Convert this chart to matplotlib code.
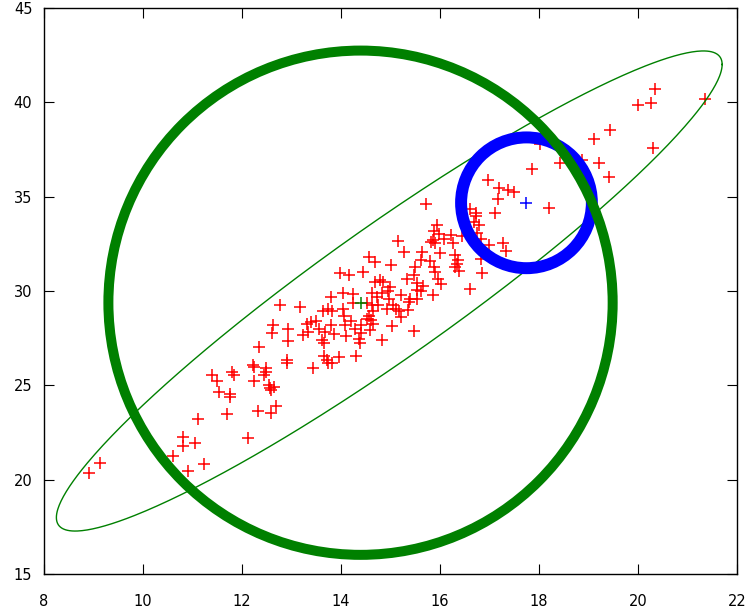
import numpy as np
import matplotlib
matplotlib.use("Agg")
import matplotlib.pyplot as plt
from matplotlib.patches import Ellipse

# ---- data ----
xs = [8.91, 9.15, 10.62, 10.81, 10.82, 11.05, 10.92, 11.25, 11.12, 11.70,
      12.12, 12.34, 12.59, 12.69, 11.41, 11.50, 11.81, 11.55, 11.76, 11.77,
      12.22, 12.25, 12.50, 12.49, 12.45, 12.24, 12.55, 12.66, 12.58, 12.92,
      12.92, 12.77, 13.18, 12.64, 12.61, 12.93, 13.31, 13.50, 13.34, 13.23,
      12.93, 12.35, 13.45, 11.85, 12.59, 15.15, 15.28, 14.58, 14.70, 15.01,
      14.45, 13.98, 14.16, 15.47, 14.79, 14.70, 14.85, 14.99, 14.96, 15.34,
      15.54, 15.55, 14.04, 14.24, 13.81, 14.64, 14.73, 14.84, 14.97, 15.22,
      15.40, 15.38, 15.54, 14.25, 14.53, 14.64, 14.76, 15.06, 14.04, 13.74,
      13.65, 13.82, 14.65, 14.93, 15.11, 15.18, 15.35, 14.06, 14.21, 14.57,
      14.62, 14.54, 15.22, 13.41, 13.81, 14.08, 14.40, 14.66, 15.04, 15.47,
      13.57, 13.69, 13.86, 14.10, 14.28, 14.41, 14.60, 14.37, 13.63, 13.66,
      14.83, 14.38, 14.30, 13.97, 13.66, 13.72, 13.75, 13.83, 15.72, 17.17,
      17.12, 16.73, 16.74, 16.69, 16.79, 16.60, 16.76, 16.84, 16.99, 17.28,
      17.33, 16.83, 15.94, 15.89, 15.99, 16.09, 15.87, 15.91, 15.83, 16.22,
      16.26, 16.45, 16.01, 15.64, 15.62, 15.81, 16.30, 16.37, 16.34, 16.30,
      16.39, 16.85, 15.89, 15.91, 15.50, 15.97, 16.02, 15.67, 15.62, 16.60,
      15.86, 19.12, 19.43, 20.30, 18.02, 17.87, 18.43, 18.88, 19.21, 19.41,
      16.97, 17.19, 17.37, 17.49, 18.20, 20.34, 20.27, 20.00, 21.36]
ys = [20.37, 20.90, 21.27, 22.28, 21.77, 21.94, 20.45, 20.85, 23.24, 23.49,
      22.24, 23.67, 23.52, 23.89, 25.57, 25.21, 25.69, 24.63, 24.53, 24.37,
      26.10, 25.98, 25.93, 25.71, 25.56, 25.24, 25.02, 24.93, 24.84, 26.35,
      26.21, 29.24, 29.14, 28.22, 27.80, 28.01, 28.26, 28.43, 27.83, 27.69,
      27.37, 27.05, 25.93, 25.56, 24.78, 32.64, 32.07, 31.79, 31.54, 31.36,
      31.00, 30.94, 30.84, 30.84, 30.59, 30.48, 30.48, 30.20, 30.02, 30.63,
      30.44, 30.06, 29.91, 29.84, 29.67, 29.88, 29.70, 29.88, 29.59, 29.81,
      29.59, 29.42, 29.59, 29.38, 29.38, 29.24, 29.24, 29.24, 29.06, 29.03,
      28.92, 28.92, 28.96, 29.06, 29.06, 28.92, 28.99, 28.65, 28.40, 28.65,
      28.47, 28.54, 28.61, 28.36, 28.19, 28.19, 28.19, 28.26, 28.15, 27.89,
      27.98, 27.83, 27.73, 27.62, 28.01, 27.80, 27.94, 27.48, 27.41, 27.23,
      27.43, 27.27, 26.54, 26.49, 26.54, 26.35, 26.17, 26.21, 34.61, 34.86,
      34.12, 34.15, 33.97, 33.65, 33.51, 34.36, 33.08, 32.77, 32.46, 32.53,
      32.10, 31.68, 33.51, 33.16, 33.02, 32.77, 32.71, 32.53, 32.60, 32.95,
      32.56, 32.91, 32.00, 32.07, 31.64, 31.61, 31.89, 31.64, 31.43, 31.25,
      31.04, 30.94, 31.25, 31.00, 31.25, 30.66, 30.38, 30.27, 29.99, 30.13,
      29.77, 38.03, 38.53, 37.55, 37.77, 36.45, 36.78, 36.93, 36.77, 36.02,
      35.88, 35.45, 35.35, 35.22, 34.38, 40.68, 39.97, 39.83, 40.18]

# thin ellipse (centre, half extents along x and y, phase between them)
ell_center = (14.98, 30.00)
ell_half_x = 6.72
ell_half_y = 12.71
ell_phase = np.arcsin(0.331)

# circles drawn round in screen space; radius in x-axis units
big_center = (14.40, 29.38)
big_radius = 5.09
small_center = (17.75, 34.67)
small_radius = 1.32

xticks = [8, 10, 12, 14, 16, 18, 20, 22]
yticks = [15, 20, 25, 30, 35, 40, 45]

# ---- figure ----
W, H = 748, 611
fig = plt.figure(figsize=(W / 100, H / 100), dpi=100)
left_px, right_px, top_px, bottom_px = 43.5, 737.0, 7.7, 574.3
ax = fig.add_axes([left_px / W, (H - bottom_px) / H,
                   (right_px - left_px) / W, (bottom_px - top_px) / H])
ax.set_xlim(8, 22)
ax.set_ylim(15, 45)

green = '#008000'
red = '#ff0000'
blue = '#0000ff'

ax.plot(xs, ys, linestyle='none', marker='+', color=red, ms=9, mew=1.1, zorder=2)

t = np.linspace(0, 2 * np.pi, 500)
ax.plot(ell_center[0] + ell_half_x * np.cos(t),
        ell_center[1] + ell_half_y * np.cos(t - ell_phase),
        color=green, lw=1.0, zorder=3)

px_per_x = (right_px - left_px) / 14.0
px_per_y = (bottom_px - top_px) / 30.0
ratio = px_per_x / px_per_y

ax.add_patch(Ellipse(small_center, 2 * small_radius, 2 * small_radius * ratio,
                     fill=False, ec=blue, lw=8.6, zorder=4))
ax.plot([small_center[0]], [small_center[1]], marker='+', color=blue, ms=9, mew=1.1,
        linestyle='none', zorder=4)
ax.add_patch(Ellipse(big_center, 2 * big_radius, 2 * big_radius * ratio,
                     fill=False, ec=green, lw=7.2, zorder=5))
ax.plot([big_center[0]], [big_center[1]], marker='+', color=green, ms=9, mew=1.1,
        linestyle='none', zorder=5)

ax.set_xticks(xticks)
ax.set_yticks(yticks)
ax.tick_params(direction='in', length=7, width=0.8, top=True, right=True,
               labelsize=10.5, colors='black')
ax.tick_params(axis='x', pad=14)
ax.tick_params(axis='y', pad=8)
for s in ax.spines.values():
    s.set_linewidth(1.0)

fig.savefig('out.png', dpi=100)
